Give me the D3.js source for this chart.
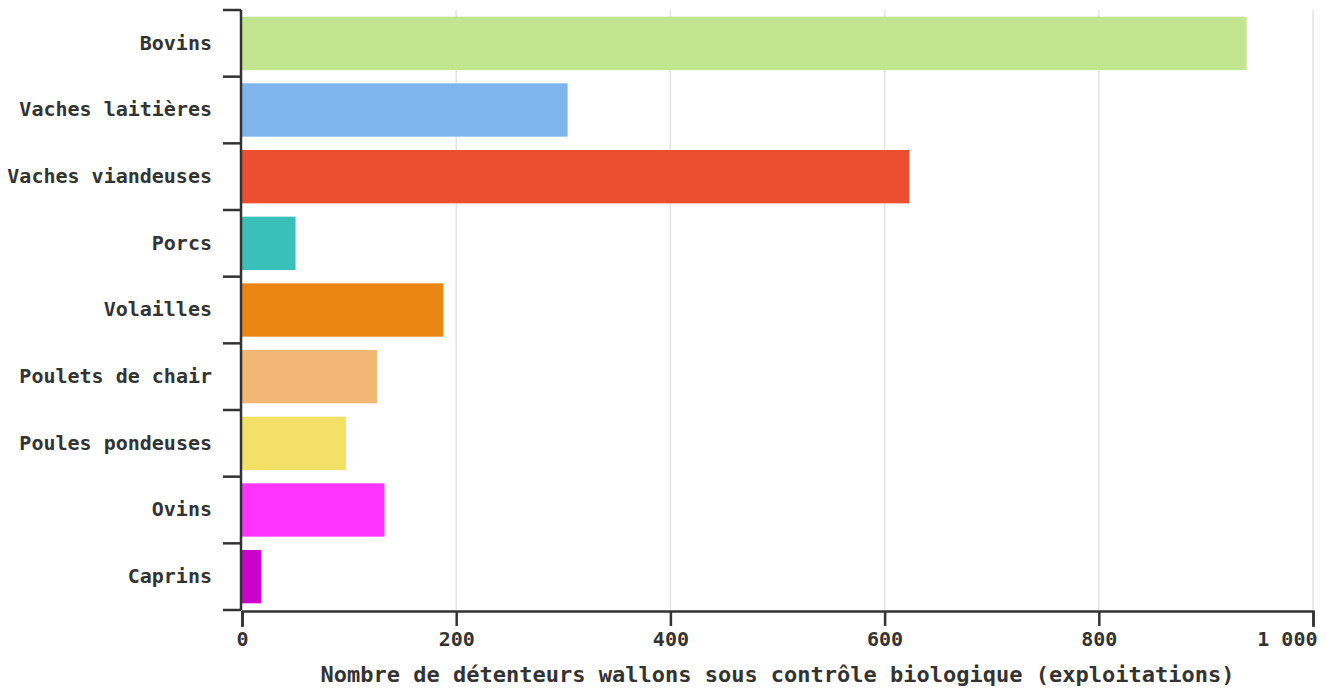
<!DOCTYPE html>
<html>
<head>
<meta charset="utf-8">
<script src="https://cdn.jsdelivr.net/npm/d3@7"></script>
<style>
  body { margin: 0; background: #fff; }
  text { font-family: "DejaVu Sans Mono", monospace; font-weight: bold; fill: #333; }
</style>
</head>
<body>
<svg></svg>
<script>
const categories = ["Bovins", "Vaches laitières", "Vaches viandeuses", "Porcs", "Volailles",
    "Poulets de chair", "Poules pondeuses", "Ovins", "Caprins"];
const values = [938, 304, 623, 50, 188, 126, 97, 133, 18];
const colors = ["#c2e690", "#7db5ec", "#ee4e30", "#3bbfbb", "#eb8615",
    "#f3b775", "#f3e066", "#ff33ff", "#cc00cc"];
const xTicks = [0, 200, 400, 600, 800, 1000];
const xTitle = "Nombre de détenteurs wallons sous contrôle biologique (exploitations)";

const width = 1326;
const height = 688;
const plotLeft = 242, plotRight = 1313, plotTop = 10, plotBottom = 610;

let svg = d3.select("svg")
    .attr("width", width)
    .attr("height", height);

let x = d3.scaleLinear()
    .domain([0, 1000])
    .range([plotLeft, plotRight]);

let y = d3.scaleBand()
    .domain(categories)
    .range([plotTop, plotBottom])
    .paddingInner(0.2)
    .paddingOuter(0.1);

// grid
svg.append("g")
    .selectAll("line")
    .data(xTicks.slice(1))
    .enter()
    .append("line")
    .attr("x1", d => x(d))
    .attr("x2", d => x(d))
    .attr("y1", plotTop)
    .attr("y2", plotBottom)
    .style("stroke", "#e3e3e3")
    .style("stroke-width", 1.5);

// bars
let data = categories.map((c, i) => ({cat: c, value: values[i], color: colors[i]}));
svg.append("g")
    .selectAll("rect")
    .data(data)
    .enter()
    .append("rect")
    .attr("x", x(0))
    .attr("y", d => y(d.cat))
    .attr("width", d => x(d.value) - x(0))
    .attr("height", y.bandwidth())
    .style("fill", d => d.color);

// bottom axis
let fmt = d => d3.format(",")(d).replace(/,/g, " ");
let axisX = svg.append("g")
    .attr("transform", `translate(0, ${plotBottom + 1})`)
    .call(d3.axisBottom(x).tickValues(xTicks).tickSize(15).tickSizeOuter(16).tickPadding(6).tickFormat(fmt));
axisX.selectAll("text").style("font-size", "20px");
axisX.select(".tick:last-of-type text").attr("text-anchor", "end").attr("dx", "4");
axisX.selectAll("path, line").style("stroke", "#333").style("stroke-width", 2.5);

// left axis: labels + ticks at band boundaries
let axisY = svg.append("g")
    .attr("transform", `translate(${plotLeft - 1}, 0)`)
    .call(d3.axisLeft(y).tickSize(0).tickPadding(29));
axisY.selectAll("text").style("font-size", "20px");
axisY.select(".domain").remove();

let half = y.step() * y.paddingInner() / 2;
let bounds = categories.map(c => y(c) - half);
bounds.push(y(categories[categories.length - 1]) + y.bandwidth() + half);

axisY.append("line")
    .attr("x1", 0).attr("x2", 0)
    .attr("y1", bounds[0]).attr("y2", bounds[bounds.length - 1])
    .style("stroke", "#333").style("stroke-width", 2.5);
axisY.selectAll(".bound")
    .data(bounds)
    .enter()
    .append("line")
    .attr("class", "bound")
    .attr("x1", -18).attr("x2", 0)
    .attr("y1", d => d).attr("y2", d => d)
    .style("stroke", "#333").style("stroke-width", 2.5);

// title
svg.append("text")
    .attr("x", (plotLeft + plotRight) / 2)
    .attr("y", 682)
    .attr("text-anchor", "middle")
    .style("font-size", "22px")
    .text(xTitle);
</script>
</body>
</html>
